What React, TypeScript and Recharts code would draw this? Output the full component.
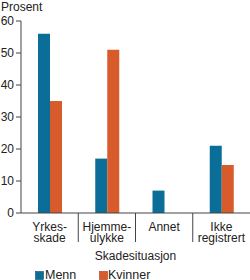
import React from 'react';
import { BarChart, Bar, XAxis, YAxis } from 'recharts';

const categories = ['Yrkes-\nskade', 'Hjemme-\nulykke', 'Annet', 'Ikke\nregistrert'];
const menn = [56, 17, 7, 21];
const kvinner = [35, 51, 0, 15];
const yTicks = [0, 10, 20, 30, 40, 50, 60];
const seriesNames = ['Menn', 'Kvinner'];

const data = categories.map((c, i) => ({ cat: c, menn: menn[i], kvinner: kvinner[i] }));

const BLUE = '#0b6e98';
const ORANGE = '#d75b2b';
const AXIS = '#444';
const FONT = '"Liberation Sans", Arial, sans-serif';

const XTick = (props: any) => {
  const { x, y, payload, index } = props;
  const lines = String(payload.value).split('\n');
  const half = payload.offset || 28.6;
  return (
    <g>
      {lines.map((l: string, i: number) => (
        <text key={i} x={x} y={y + 18 + i * 11} textAnchor="middle" fontSize={12} fill="#222" fontFamily={FONT}>
          {l}
        </text>
      ))}
      {index > 0 && <line x1={x - half} x2={x - half} y1={y} y2={y + 29} stroke={AXIS} strokeWidth={1} />}
    </g>
  );
};

const AxisTitle = (props: any) => {
  const vb = props.viewBox || { x: 21, y: 213, width: 229 };
  return (
    <text x={vb.x + vb.width / 2} y={vb.y + 47} textAnchor="middle" fontSize={12} fill="#222" fontFamily={FONT}>
      Skadesituasjon
    </text>
  );
};

export default function App() {
  return (
    <div style={{ position: 'absolute', left: 0, top: 0, width: 250, height: 280, background: '#fff', overflow: 'hidden' }}>
      <div style={{ position: 'absolute', left: 1, top: 0, fontFamily: FONT, fontSize: 12, lineHeight: '14px', color: '#222' }}>Prosent</div>
      <BarChart width={250} height={280} data={data} margin={{ top: 21, right: 0, bottom: 22, left: 0 }} barSize={12} barGap={0}>
        <YAxis
          width={21}
          domain={[0, 60]}
          ticks={yTicks}
          interval={0}
          tickSize={5}
          tickMargin={2}
          axisLine={{ stroke: AXIS }}
          tickLine={{ stroke: AXIS }}
          tick={{ fontSize: 12, fill: '#222', fontFamily: FONT }}
        />
        <XAxis
          dataKey="cat"
          height={45}
          tickSize={0}
          tickMargin={0}
          tickLine={false}
          axisLine={{ stroke: AXIS }}
          interval={0}
          tick={<XTick />}
          label={<AxisTitle />}
        />
        <Bar dataKey="menn" name={seriesNames[0]} fill={BLUE} isAnimationActive={false} />
        <Bar dataKey="kvinner" name={seriesNames[1]} fill={ORANGE} isAnimationActive={false} />
      </BarChart>
      <svg style={{ position: 'absolute', left: 0, top: 264 }} width={250} height={16}>
        <rect x={35.5} y={7.5} width={8} height={8} fill={BLUE} stroke="#0a4f6e" strokeWidth={0.6} />
        <text x={45} y={15} fontSize={12.5} fontFamily={FONT} fill="#222">{seriesNames[0]}</text>
        <rect x={99.5} y={7.5} width={8} height={8} fill={ORANGE} stroke="#9e3f1c" strokeWidth={0.6} />
        <text x={108} y={15} fontSize={12.5} fontFamily={FONT} fill="#222">{seriesNames[1]}</text>
      </svg>
    </div>
  );
}
